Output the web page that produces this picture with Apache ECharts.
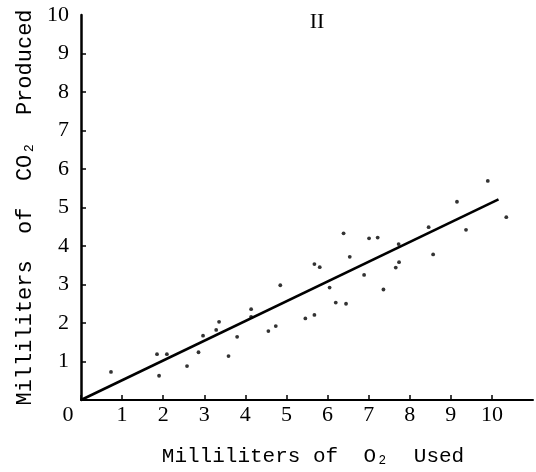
<!DOCTYPE html>
<html>
<head>
<meta charset="utf-8">
<script src="https://cdn.jsdelivr.net/npm/echarts@6/dist/echarts.min.js"></script>
<style>
  html, body { margin: 0; padding: 0; background: #fff; }
  #chart { width: 536px; height: 472px; }
</style>
</head>
<body>
<div id="chart"></div>
<script>
// Oxygen used vs. carbon dioxide produced (ml), individual measurements
const o2Used = [0.73, 1.85, 2.09, 1.90, 2.58, 2.86, 2.97, 3.29, 3.36, 3.59, 3.80, 4.14, 4.14,
  4.56, 4.74, 4.85, 5.46, 5.68, 5.68, 5.81, 6.05, 6.20, 6.45, 6.39, 6.54, 6.89, 7.01, 7.22,
  7.36, 7.66, 7.74, 7.73, 8.46, 8.57, 9.15, 9.37, 9.90, 10.35];
const co2Produced = [0.73, 1.19, 1.19, 0.63, 0.88, 1.24, 1.67, 1.82, 2.03, 1.14, 1.64, 2.36, 2.16,
  1.79, 1.92, 2.98, 2.12, 2.21, 3.53, 3.45, 2.92, 2.53, 2.50, 4.33, 3.72, 3.25, 4.20, 4.22,
  2.87, 3.44, 3.58, 4.05, 4.49, 3.78, 5.15, 4.42, 5.69, 4.75];

// Fitted line through the origin
const fitX = [0, 10.16];
const fitY = [0, 5.21];

// Axis ticks and labels
const xTicks = [0, 1, 2, 3, 4, 5, 6, 7, 8, 9, 10];
const yTickMarks = [1, 2, 3, 4, 5, 6, 7, 8, 9];
const yTickLabels = [1, 2, 3, 4, 5, 6, 7, 8, 9, 10];

const panelTitle = 'II';
const xName = 'Milliliters of  O\u2082  Used';
const yName = 'Milliliters  of  CO\u2082  Produced';

const ink = '#000';
const digitFont = 'Liberation Serif';
const nameFont = "'Liberation Mono', monospace";

const chart = echarts.init(document.getElementById('chart'), null, { renderer: 'canvas' });

chart.setOption({
  backgroundColor: '#fff',
  animation: false,
  title: {
    text: panelTitle,
    left: 312,
    top: 6,
    textAlign: 'center',
    textStyle: { fontFamily: digitFont, fontSize: 22, fontWeight: 'normal', color: ink }
  },
  grid: { left: 81, right: 3, top: 15, bottom: 72, outerBoundsMode: 'none' },
  xAxis: {
    type: 'value',
    min: 0,
    max: 11,
    interval: 1,
    name: xName,
    nameLocation: 'middle',
    nameGap: 46,
    nameTextStyle: { fontFamily: nameFont, fontSize: 21, color: ink, padding: [0, 0, 0, 12] },
    axisLine: { show: true, onZero: false, lineStyle: { color: ink, width: 2 } },
    axisTick: { show: true, inside: true, length: 5, customValues: xTicks, lineStyle: { color: ink, width: 1.5 } },
    axisLabel: {
      customValues: xTicks,
      margin: 4,
      color: ink,
      fontFamily: digitFont,
      fontSize: 22,
      formatter: v => (v === 0 ? '{z|0}' : String(v)),
      rich: { z: { padding: [0, 26, 0, 0], fontFamily: digitFont, fontSize: 22, color: ink } }
    },
    splitLine: { show: false }
  },
  yAxis: {
    type: 'value',
    min: 0,
    max: 10,
    interval: 1,
    name: yName,
    nameLocation: 'middle',
    nameGap: 37,
    nameTextStyle: { fontFamily: nameFont, fontSize: 22, color: ink },
    axisLine: { show: true, onZero: false, lineStyle: { color: ink, width: 2.5 } },
    axisTick: { show: true, inside: true, length: 5, customValues: yTickMarks, lineStyle: { color: ink, width: 1.5 } },
    axisLabel: {
      customValues: yTickLabels,
      margin: 12,
      color: ink,
      fontFamily: digitFont,
      fontSize: 22
    },
    splitLine: { show: false }
  },
  series: [
    {
      type: 'line',
      data: fitX.map((x, i) => [x, fitY[i]]),
      symbol: 'none',
      lineStyle: { color: ink, width: 2.6 },
      z: 2
    },
    {
      type: 'scatter',
      data: o2Used.map((x, i) => [x, co2Produced[i]]),
      symbol: 'circle',
      symbolSize: 3.8,
      itemStyle: { color: ink },
      z: 3
    }
  ]
});
</script>
</body>
</html>
